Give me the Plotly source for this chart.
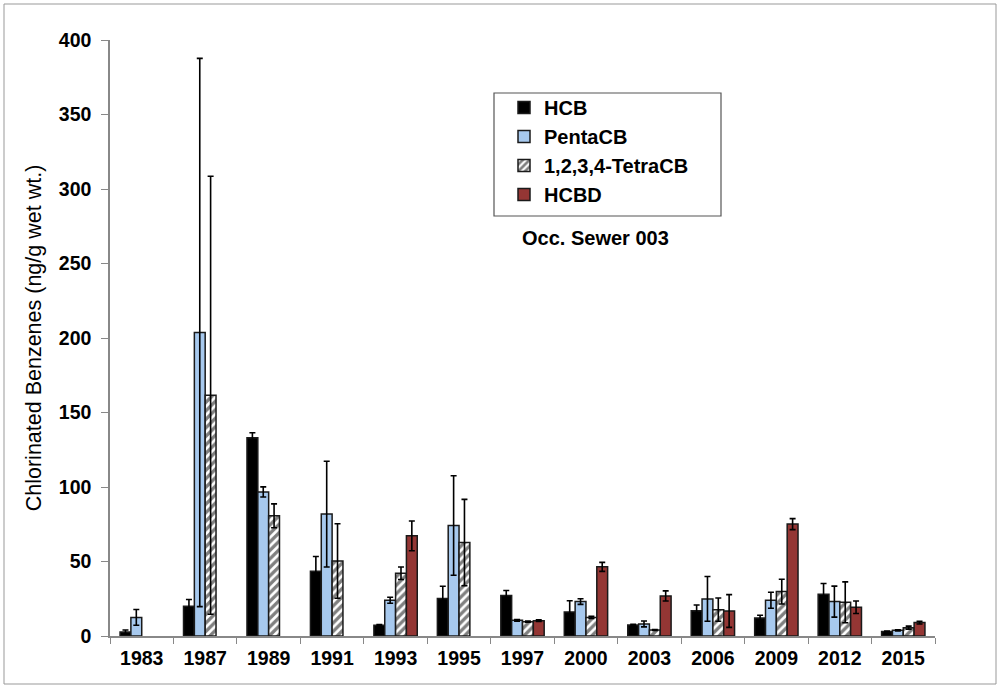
import plotly.graph_objects as go

years = ["1983", "1987", "1989", "1991", "1993", "1995", "1997", "2000", "2003", "2006", "2009", "2012", "2015"]

hcb = [2.7, 20, 133, 43.4, 7.2, 25.1, 27.1, 16.1, 7.4, 17, 12.1, 28, 3.1]
hcb_err = [1.3, 4.5, 3.4, 10, 0.5, 8.3, 3.4, 7.6, 0.5, 3.8, 1.8, 7.2, 0.3]

penta = [12.5, 203.7, 96.7, 81.8, 24, 74.2, 10.5, 23.1, 8.1, 24.9, 24, 23.1, 3.8]
penta_err = [5.3, 184, 3.4, 35.5, 2, 33.4, 0.6, 1.9, 2, 15, 5.4, 10.4, 0.4]

tetra = [None, 161.6, 80.7, 50.3, 42.1, 62.7, 9.6, 12.5, 4, 17.7, 29.8, 22.6, 5.6]
tetra_err = [0, 147, 8, 25, 4.2, 29, 0.4, 0.8, 0.3, 7.8, 8.3, 13.7, 1]

hcbd = [None, None, None, None, 67.2, None, 10.3, 46.4, 26.9, 16.8, 75.1, 19.3, 9]
hcbd_err = [0, 0, 0, 0, 10, 0, 0.5, 3, 3.4, 11, 3.7, 4.2, 0.9]

FONT = "Liberation Sans, Arial, sans-serif"
err_style = dict(type="data", visible=True, color="black", thickness=1.6, width=3)
line = dict(color="#1a1a1a", width=1.5)

fig = go.Figure()
fig.add_trace(go.Bar(name="HCB", x=years, y=hcb,
                     error_y=dict(array=hcb_err, **err_style),
                     marker=dict(color="black", line=line)))
fig.add_trace(go.Bar(name="PentaCB", x=years, y=penta,
                     error_y=dict(array=penta_err, **err_style),
                     marker=dict(color="#a7c9ee", line=line)))
fig.add_trace(go.Bar(name="1,2,3,4-TetraCB", x=years, y=tetra,
                     error_y=dict(array=tetra_err, **err_style),
                     marker=dict(color="white", line=line,
                                 pattern=dict(shape="/", fgcolor="black", bgcolor="white",
                                              size=6, solidity=0.55))))
fig.add_trace(go.Bar(name="HCBD", x=years, y=hcbd,
                     error_y=dict(array=hcbd_err, **err_style),
                     marker=dict(color="#943634", line=line)))

W, H = 998, 688
L, R, T, B = 110, 63, 40, 52
pw, ph = W - L - R, H - T - B


def px(x):
    return (x - L) / pw


def py(y):
    return (H - B - y) / ph


fig.update_layout(
    width=W, height=H,
    margin=dict(l=L, r=R, t=T, b=B, autoexpand=False),
    paper_bgcolor="white", plot_bgcolor="white",
    barmode="group", bargap=0.317, bargroupgap=0,
    font=dict(family=FONT, color="black"),
    showlegend=True,
    legend=dict(x=px(504), y=py(88), xanchor="left", yanchor="top",
                borderwidth=0, bgcolor="rgba(0,0,0,0)",
                font=dict(size=20, family=FONT, weight="bold"),
                tracegroupgap=4, itemwidth=30),
    xaxis=dict(type="category", showline=True, linecolor="#888888", linewidth=1.5,
               ticks="outside", tickson="boundaries", ticklen=6, tickcolor="#888888",
               tickfont=dict(size=19.5, family=FONT, weight="bold"), showgrid=False,
               ticklabelstandoff=4),
    yaxis=dict(range=[0, 400], dtick=50, showline=True, linecolor="#888888", linewidth=1.5,
               ticks="outside", ticklen=7, tickcolor="#888888", showgrid=False, zeroline=False,
               tickfont=dict(size=19.5, family=FONT, weight="bold"), ticklabelstandoff=6,
               title=dict(text="Chlorinated Benzenes (ng/g wet wt.)",
                          font=dict(size=21.5, family=FONT), standoff=11)),
    annotations=[dict(text="<b>Occ. Sewer 003</b>", x=px(520), y=py(238),
                      xref="paper", yref="paper", xanchor="left", yanchor="middle",
                      showarrow=False, font=dict(size=20, family=FONT))],
    shapes=[
        dict(type="rect", xref="paper", yref="paper",
             x0=px(494), x1=px(721), y0=py(216), y1=py(93),
             line=dict(color="#555555", width=1.2), layer="below"),
        dict(type="rect", xref="paper", yref="paper",
             x0=px(4), x1=px(996), y0=py(684), y1=py(4),
             line=dict(color="#999999", width=1)),
    ],
)

fig.write_html("out.html", config={"displayModeBar": False},
               post_script="document.body.style.margin='0';document.body.style.overflow='hidden';")
